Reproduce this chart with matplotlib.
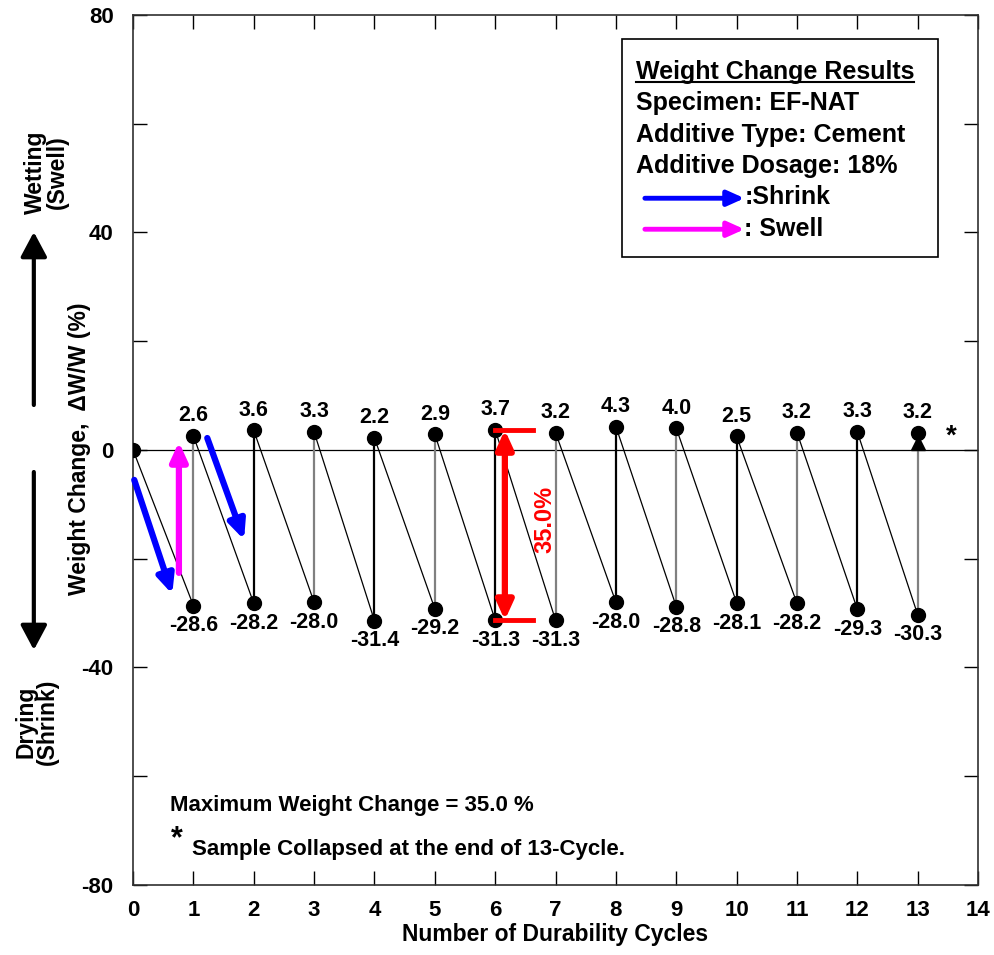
import matplotlib.pyplot as plt
from matplotlib.patches import FancyArrowPatch
import numpy as np

plt.rcParams['font.family'] = ['Liberation Sans', 'DejaVu Sans']
plt.rcParams['font.weight'] = 'bold'
plt.rcParams['axes.unicode_minus'] = False

cycles = np.arange(1, 14)
wet = [2.6, 3.6, 3.3, 2.2, 2.9, 3.7, 3.2, 4.3, 4.0, 2.5, 3.2, 3.3, 3.2]
dry = [-28.6, -28.2, -28.0, -31.4, -29.2, -31.3, -31.3, -28.0, -28.8, -28.1, -28.2, -29.3, -30.3]
max_change = 35.0
max_cycle = 6
collapse_y = 1.3

legend_lines = ['Specimen: EF-NAT', 'Additive Type: Cement', 'Additive Dosage: 18%']

fig = plt.figure(figsize=(9.95, 9.55), dpi=100)
ax = fig.add_axes([0.1337, 0.0733, 0.8493, 0.911])
ax.set_xlim(0, 14)
ax.set_ylim(-80, 80)

# zero line
ax.axhline(0, color='black', lw=0.9, zorder=1)

# diagonal drying lines: previous wet point -> next dry point
prev_x, prev_y = 0, 0.0
for c, w, d in zip(cycles, wet, dry):
    ax.plot([prev_x, c], [prev_y, d], color='black', lw=0.9, zorder=2)
    col = '#808080' if c % 2 == 1 else 'black'
    ax.plot([c, c], [d, w], color=col, lw=1.6, zorder=2)
    prev_x, prev_y = c, w

ax.plot([0], [0], 'o', color='black', ms=10, zorder=4)
ax.plot(cycles, wet, 'o', color='black', ms=10, zorder=4)
ax.plot(cycles, dry, 'o', color='black', ms=10, zorder=4)
ax.plot([13], [collapse_y], '^', color='black', ms=10, zorder=3)
ax.text(13.56, 0.0, '*', fontsize=20, ha='center', va='bottom')

for c, w, d in zip(cycles, wet, dry):
    ax.annotate(f'{w:.1f}', (c, w), xytext=(0, 7), textcoords='offset points',
                ha='center', va='bottom', fontsize=15.5)
    ax.annotate(f'{d:.1f}', (c, d), xytext=(0, -7), textcoords='offset points',
                ha='center', va='top', fontsize=15.5)

# direction arrows
def arrow(x0, y0, x1, y1, color):
    ax.annotate('', xy=(x1, y1), xytext=(x0, y0),
                arrowprops=dict(arrowstyle='-|>,head_length=1.1,head_width=0.5',
                                color=color, lw=4.5, shrinkA=0, shrinkB=0), zorder=5)

arrow(0.02, -5.5, 0.65, -26.5, 'blue')
arrow(1.23, 2.2, 1.84, -16.5, 'blue')
arrow(0.76, -22.6, 0.76, 1.5, 'magenta')

# maximum change indicator
top = wet[max_cycle - 1]
bot = dry[max_cycle - 1]
ax.annotate('', xy=(6.16, bot), xytext=(6.16, top),
            arrowprops=dict(arrowstyle='<|-|>,head_length=1.1,head_width=0.5',
                            color='red', lw=4.5, shrinkA=0, shrinkB=0), zorder=5)
ax.plot([6.0, 6.62], [top, top], color='red', lw=3.5, zorder=5)
ax.plot([6.0, 6.62], [bot, bot], color='red', lw=3.5, zorder=5)
ax.text(6.82, (top + bot) / 2 + 1, f'{max_change:.1f}%', color='red', fontsize=17,
        rotation=90, ha='center', va='center')

# info box
ax.add_patch(plt.Rectangle((8.1, 35.5), 5.24, 40.0, fill=False, ec='black', lw=1.2, zorder=6))
title = ax.text(8.33, 69.5, 'Weight Change Results', fontsize=18, va='center', ha='left', zorder=7)
for i, s in enumerate(legend_lines):
    ax.text(8.33, 63.8 - 5.8 * i, s, fontsize=18, va='center', ha='left', zorder=7)
ax.annotate('', xy=(10.13, 46.3), xytext=(8.48, 46.3),
            arrowprops=dict(arrowstyle='-|>,head_length=1.0,head_width=0.45', color='blue',
                            lw=3.5, shrinkA=0, shrinkB=0), zorder=7)
ax.annotate('', xy=(10.13, 40.6), xytext=(8.48, 40.6),
            arrowprops=dict(arrowstyle='-|>,head_length=1.0,head_width=0.45', color='magenta',
                            lw=3.5, shrinkA=0, shrinkB=0), zorder=7)
ax.text(10.13, 46.5, ':Shrink', fontsize=18, va='center', ha='left', zorder=7)
ax.text(10.13, 40.6, ': Swell', fontsize=18, va='center', ha='left', zorder=7)

# notes
ax.text(0.62, -65.3, f'Maximum Weight Change = {max_change:.1f} %', fontsize=16, va='center')
ax.text(0.62, -71.5, '*', fontsize=22, va='center')
ax.text(0.97, -73.4, 'Sample Collapsed at the end of 13-Cycle.', fontsize=16, va='center')

# axes styling
ax.set_xticks(range(0, 15))
ax.set_yticks([-80, -40, 0, 40, 80])
ax.set_yticks(range(-80, 81, 20), minor=True)
ax.tick_params(axis='both', which='both', direction='in', top=True, right=True,
               labelsize=16, length=10, width=1)
ax.tick_params(axis='x', pad=11)
ax.tick_params(axis='y', pad=14)
for lbl in ax.get_xticklabels() + ax.get_yticklabels():
    lbl.set_fontweight('bold')
for sp in ax.spines.values():
    sp.set_color('#303030')
    sp.set_linewidth(1.2)
ax.set_xlabel('Number of Durability Cycles', fontsize=16.5, fontweight='bold', labelpad=1)

fig.text(0.080, 0.53, 'Weight Change,  ΔW/W (%)', rotation=90, fontsize=16.5,
         ha='center', va='center')
fig.text(0.047, 1 - 172 / 955, 'Wetting\n(Swell)', rotation=90, fontsize=16.5,
         ha='center', va='center', linespacing=0.95)
fig.text(0.037, 1 - 722 / 955, 'Drying\n(Shrink)', rotation=90, fontsize=16.5,
         ha='center', va='center', linespacing=0.95)
for y0, y1 in [(405, 232), (472, 650)]:
    fig.patches.append(FancyArrowPatch(
        (0.034, 1 - y0 / 955), (0.034, 1 - y1 / 955), transform=fig.transFigure,
        arrowstyle='-|>,head_length=0.75,head_width=0.4', mutation_scale=20,
        color='black', lw=3, shrinkA=0, shrinkB=0))

# underline the box title
fig.canvas.draw()
bb = title.get_window_extent().transformed(ax.transData.inverted())
ax.plot([bb.x0, bb.x1], [bb.y0 + 0.3, bb.y0 + 0.3], color='black', lw=1.5, zorder=7)

fig.savefig('out.png', dpi=100)
